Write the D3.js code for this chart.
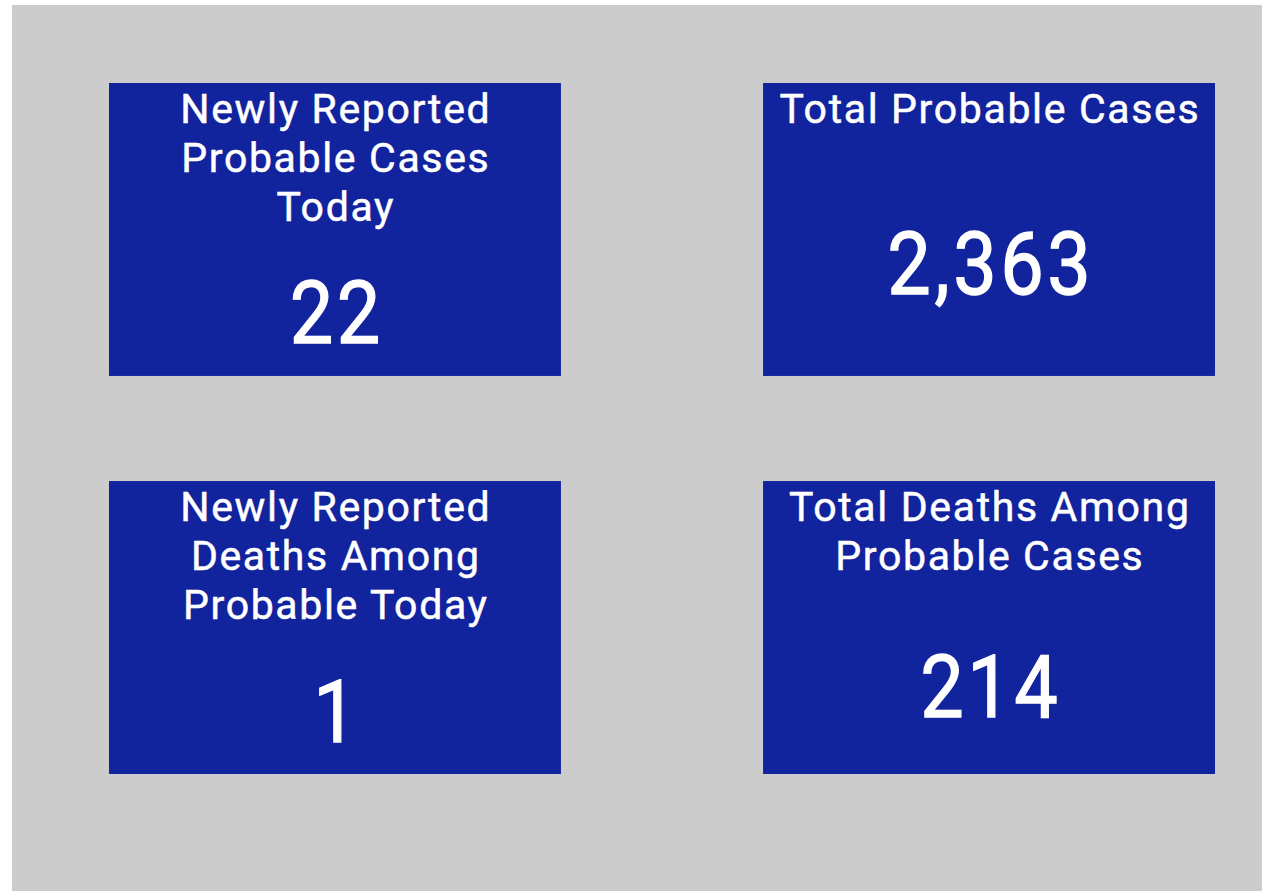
<!DOCTYPE html>
<html>
<head>
<meta charset="utf-8">
<script src="https://cdn.jsdelivr.net/npm/d3@7"></script>
<style>
  html, body { margin: 0; padding: 0; background: #ffffff; }
  svg { display: block; }
</style>
</head>
<body>
<svg id="chart" width="1262" height="891"></svg>
<script>
// ---- data ----
const cardTitles = [
  ["Newly Reported", "Probable Cases", "Today"],
  ["Total Probable Cases"],
  ["Newly Reported", "Deaths Among", "Probable Today"],
  ["Total Deaths Among", "Probable Cases"]
];
const cardValues = [22, 2363, 1, 214];
const cardCols = ["left", "right", "left", "right"];
const cardRows = ["top", "top", "bottom", "bottom"];

// ---- layout ----
const W = 1262, H = 891;
const svg = d3.select("#chart");
const FONT = "Roboto, 'Noto Sans', sans-serif";

svg.append("rect")
  .attr("x", 12).attr("y", 5)
  .attr("width", W - 12).attr("height", H - 5)
  .attr("fill", "#cccccc");

const x = d3.scaleBand().domain(["left", "right"]).range([109, 1215]).paddingInner(0.309).paddingOuter(0);
const y = d3.scaleBand().domain(["top", "bottom"]).range([83, 774]).paddingInner(0.264).paddingOuter(0);

const fmt = d3.format(",");
const titleSize = 41, lineH = 49, firstBaseline = 40, titleSpacing = 1.65;
const valueSize = 88, valueScaleX = 0.88, valueSpacing = 4;

const cards = cardValues.map((v, i) => ({
  value: v, title: cardTitles[i], col: cardCols[i], row: cardRows[i]
}));

const g = svg.selectAll("g.card").data(cards).join("g")
  .attr("class", "card")
  .attr("transform", d => `translate(${x(d.col)},${y(d.row)})`);

g.append("rect")
  .attr("width", x.bandwidth())
  .attr("height", y.bandwidth())
  .attr("fill", "#12239e");

g.each(function(d) {
  const node = d3.select(this);
  const cx = x.bandwidth() / 2;
  d.title.forEach((line, j) => {
    node.append("text")
      .attr("x", cx + titleSpacing / 2)
      .attr("y", firstBaseline + j * lineH)
      .attr("text-anchor", "middle")
      .attr("fill", "#ffffff")
      .attr("stroke", "#ffffff")
      .attr("stroke-width", 0.5)
      .attr("font-family", FONT)
      .attr("font-size", titleSize)
      .attr("letter-spacing", titleSpacing)
      .text(line);
  });
  const lastBase = firstBaseline + (d.title.length - 1) * lineH;
  const center = (lastBase + y.bandwidth()) / 2 + 14;
  node.append("text")
    .attr("transform", `translate(${cx + valueSpacing * valueScaleX / 2},${center + 31}) scale(${valueScaleX},1)`)
    .attr("text-anchor", "middle")
    .attr("fill", "#ffffff")
    .attr("stroke", "#ffffff")
    .attr("stroke-width", 1.3)
    .attr("font-family", FONT)
    .attr("font-size", valueSize)
    .attr("letter-spacing", valueSpacing)
    .text(fmt(d.value));
});
</script>
</body>
</html>
